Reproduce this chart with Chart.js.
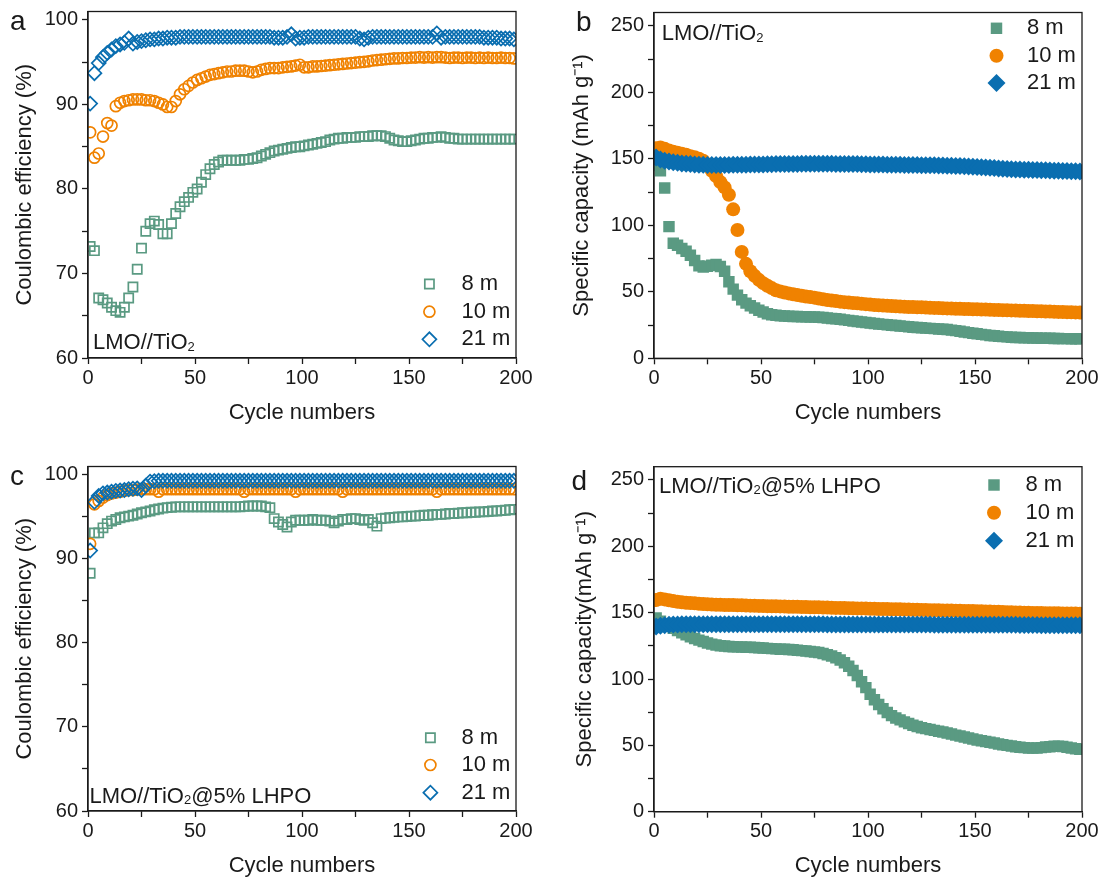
<!DOCTYPE html>
<html>
<head>
<meta charset="utf-8">
<title>LMO//TiO2 cycling</title>
<script src="https://cdn.jsdelivr.net/npm/chart.js@4.4.1/dist/chart.umd.min.js"></script>
<style>
  html, body { margin: 0; padding: 0; background: #fff; }
  #fig { position: relative; width: 1107px; height: 881px; overflow: hidden; }
  #fig canvas { position: absolute; }
</style>
</head>
<body>
<div id="fig">
  <canvas id="panelA"></canvas>
  <canvas id="panelB"></canvas>
  <canvas id="panelC"></canvas>
  <canvas id="panelD"></canvas>
</div>
<script>
// cycle index of every recorded point (every 2nd cycle)
const cycles = [
  1, 3, 5, 7, 9, 11, 13, 15, 17, 19,
  21, 23, 25, 27, 29, 31, 33, 35, 37, 39,
  41, 43, 45, 47, 49, 51, 53, 55, 57, 59,
  61, 63, 65, 67, 69, 71, 73, 75, 77, 79,
  81, 83, 85, 87, 89, 91, 93, 95, 97, 99,
  101, 103, 105, 107, 109, 111, 113, 115, 117, 119,
  121, 123, 125, 127, 129, 131, 133, 135, 137, 139,
  141, 143, 145, 147, 149, 151, 153, 155, 157, 159,
  161, 163, 165, 167, 169, 171, 173, 175, 177, 179,
  181, 183, 185, 187, 189, 191, 193, 195, 197, 199
];
const seriesNames = ['8 m', '10 m', '21 m'];

// (a) LMO//TiO2, coulombic efficiency (%)
const ceA_8m = [
  73.2, 72.7, 67.1, 66.9, 66.5, 66.0, 65.6, 65.4, 66.0, 67.1,
  68.4, 70.5, 73.0, 75.0, 75.9, 76.2, 75.8, 74.7, 74.7, 75.9,
  77.1, 77.9, 78.5, 79.0, 79.6, 80.0, 80.8, 81.7, 82.4, 82.9,
  83.2, 83.4, 83.4, 83.4, 83.4, 83.4, 83.5, 83.5, 83.6, 83.7,
  83.9, 84.1, 84.3, 84.5, 84.6, 84.7, 84.8, 84.9, 85.0, 85.0,
  85.1, 85.2, 85.3, 85.4, 85.5, 85.6, 85.8, 85.9, 86.0, 86.0,
  86.1, 86.1, 86.1, 86.2, 86.2, 86.2, 86.3, 86.3, 86.3, 86.2,
  86.0, 85.8, 85.7, 85.6, 85.6, 85.7, 85.8, 85.9, 86.0, 86.0,
  86.1, 86.1, 86.2, 86.1, 86.0, 86.0, 85.9, 85.9, 85.9, 85.9,
  85.9, 85.9, 85.9, 85.9, 85.9, 85.9, 85.9, 85.9, 85.9, 85.9
];
const ceA_10m = [
  86.7, 83.7, 84.2, 86.2, 87.8, 87.5, 89.8, 90.2, 90.4, 90.5,
  90.6, 90.6, 90.6, 90.5, 90.5, 90.4, 90.2, 90.0, 89.7, 89.7,
  90.4, 91.2, 91.8, 92.2, 92.6, 92.9, 93.1, 93.3, 93.5, 93.6,
  93.7, 93.8, 93.9, 93.9, 94.0, 94.0, 94.0, 93.9, 93.8, 93.9,
  94.1, 94.2, 94.3, 94.3, 94.3, 94.4, 94.45, 94.5, 94.6, 94.7,
  94.4, 94.4, 94.5, 94.5, 94.55, 94.6, 94.65, 94.7, 94.75, 94.8,
  94.85, 94.9, 94.95, 95.0, 95.05, 95.1, 95.2, 95.25, 95.3, 95.35,
  95.4, 95.45, 95.45, 95.5, 95.5, 95.55, 95.55, 95.6, 95.55, 95.6,
  95.55, 95.6, 95.6, 95.55, 95.5, 95.55, 95.55, 95.5, 95.55, 95.55,
  95.5, 95.55, 95.5, 95.55, 95.5, 95.5, 95.55, 95.5, 95.5, 95.45
];
const ceA_21m = [
  90.1, 93.7, 94.9, 95.6, 96.1, 96.5, 96.9, 97.1, 97.3, 97.8,
  97.2, 97.4, 97.5, 97.6, 97.7, 97.7, 97.8, 97.8, 97.9, 97.9,
  97.9, 98.0, 98.0, 98.0, 98.0, 98.0, 98.0, 98.0, 98.0, 98.0,
  98.0, 98.0, 98.0, 98.0, 98.0, 98.0, 98.0, 98.0, 98.0, 98.0,
  98.0, 98.0, 98.0, 97.9, 97.9, 97.9, 98.0, 98.3, 97.8, 97.9,
  97.9, 98.0, 98.0, 98.0, 98.0, 98.0, 98.0, 98.0, 98.0, 98.0,
  98.0, 98.0, 98.0, 97.8, 97.7, 97.9, 98.0, 98.0, 98.0, 98.0,
  98.0, 98.0, 98.0, 98.0, 98.0, 98.0, 98.0, 98.0, 98.0, 98.0,
  98.0, 98.4, 97.9, 98.0, 98.0, 98.0, 98.0, 98.0, 98.0, 98.0,
  98.0, 98.0, 97.9, 97.9, 97.9, 97.9, 97.8, 97.8, 97.8, 97.7
];

// (b) LMO//TiO2, specific capacity (mAh g-1)
const capB_8m = [
  145.0, 141.0, 128.0, 99.0, 86.5, 85.0, 82.5, 80.5, 77.5, 73.5,
  69.5, 68.7, 69.2, 70.0, 70.5, 69.0, 65.5, 57.5, 52.0, 47.5,
  44.0, 41.5, 39.5, 37.8, 36.2, 34.8, 33.5, 32.8, 32.4, 32.0,
  31.8, 31.6, 31.5, 31.4, 31.3, 31.2, 31.1, 31.0, 30.8, 30.6,
  30.3, 30.0, 29.7, 29.3, 28.9, 28.5, 28.1, 27.7, 27.3, 26.9,
  26.5, 26.1, 25.8, 25.5, 25.2, 24.9, 24.6, 24.3, 24.0, 23.7,
  23.4, 23.1, 22.9, 22.7, 22.5, 22.3, 22.1, 21.9, 21.6, 21.2,
  20.8, 20.3, 19.8, 19.3, 18.8, 18.4, 18.0, 17.6, 17.2, 16.9,
  16.6, 16.3, 16.1, 15.9, 15.7, 15.6, 15.5, 15.4, 15.3, 15.2,
  15.1, 15.0, 15.0, 14.9, 14.9, 14.8, 14.8, 14.7, 14.7, 14.6
];
const capB_10m = [
  158.0, 158.5, 157.5, 156.3, 155.3, 154.5, 153.8, 153.0, 152.0, 151.2,
  150.0, 148.5, 145.0, 141.0, 137.0, 132.5, 128.5, 123.0, 112.0, 96.5,
  80.0, 71.0, 65.5, 62.0, 59.0, 56.5, 54.5, 52.8, 51.2, 50.3,
  49.5, 48.8, 48.2, 47.6, 47.0, 46.5, 46.1, 45.6, 45.0, 44.4,
  43.8, 43.4, 43.0, 42.6, 42.2, 41.9, 41.6, 41.3, 41.0, 40.7,
  40.4, 40.1, 39.9, 39.7, 39.5, 39.3, 39.1, 38.9, 38.7, 38.6,
  38.5, 38.4, 38.3, 38.2, 38.0, 37.9, 37.8, 37.6, 37.5, 37.4,
  37.3, 37.2, 37.1, 37.0, 36.9, 36.8, 36.7, 36.6, 36.5, 36.4,
  36.3, 36.2, 36.1, 36.0, 35.9, 35.8, 35.7, 35.6, 35.5, 35.4,
  35.3, 35.2, 35.1, 35.0, 34.9, 34.8, 34.7, 34.6, 34.5, 34.4
];
const capB_21m = [
  151.0, 149.5, 148.5, 148.0, 147.5, 147.0, 146.5, 146.3, 146.0, 145.8,
  145.6, 145.5, 145.4, 145.3, 145.3, 145.3, 145.4, 145.4, 145.5, 145.5,
  145.6, 145.6, 145.7, 145.7, 145.8, 145.8, 145.9, 145.9, 146.0, 146.0,
  146.0, 146.1, 146.1, 146.1, 146.2, 146.2, 146.2, 146.2, 146.2, 146.2,
  146.2, 146.2, 146.1, 146.1, 146.1, 146.0, 146.0, 146.0, 145.9, 145.9,
  145.8, 145.8, 145.7, 145.7, 145.6, 145.6, 145.5, 145.5, 145.4, 145.4,
  145.3, 145.3, 145.2, 145.2, 145.1, 145.1, 145.0, 144.9, 144.8, 144.7,
  144.6, 144.5, 144.4, 144.2, 144.0, 143.8, 143.6, 143.4, 143.2, 143.0,
  142.8, 142.6, 142.4, 142.2, 142.0, 141.9, 141.8, 141.7, 141.6, 141.5,
  141.4, 141.3, 141.2, 141.1, 141.0, 140.9, 140.8, 140.7, 140.6, 140.5
];

// (c) LMO//TiO2@5% LHPO, coulombic efficiency (%)
const ceC_8m = [
  88.3, 93.1, 93.1, 93.7, 94.2, 94.5, 94.7, 94.9, 95.0, 95.1,
  95.2, 95.35, 95.5, 95.6, 95.7, 95.85, 95.95, 96.05, 96.1, 96.15,
  96.2, 96.2, 96.2, 96.2, 96.2, 96.2, 96.2, 96.2, 96.2, 96.2,
  96.2, 96.2, 96.2, 96.2, 96.2, 96.2, 96.25, 96.3, 96.3, 96.3,
  96.3, 96.2, 96.1, 94.8, 94.4, 94.1, 93.8, 94.4, 94.6, 94.6,
  94.6, 94.6, 94.7, 94.6, 94.6, 94.6, 94.5, 94.3, 94.5, 94.7,
  94.7, 94.8, 94.8, 94.7, 94.6, 94.7, 94.3, 93.9, 94.8, 94.85,
  94.9, 94.95, 95.0, 95.0, 95.05, 95.1, 95.1, 95.15, 95.2, 95.2,
  95.25, 95.3, 95.3, 95.35, 95.4, 95.4, 95.45, 95.5, 95.5, 95.55,
  95.55, 95.6, 95.6, 95.65, 95.7, 95.7, 95.75, 95.8, 95.85, 95.9
];
const ceC_10m = [
  91.8, 96.5, 96.9, 97.3, 97.6, 97.8, 97.9, 98.0, 98.1, 98.2,
  98.2, 98.25, 98.3, 98.3, 98.3, 98.3, 98.0, 98.3, 98.3, 98.3,
  98.3, 98.3, 98.3, 98.3, 98.3, 98.3, 98.3, 98.3, 98.3, 98.3,
  98.3, 98.3, 98.3, 98.3, 98.3, 98.3, 98.0, 98.3, 98.3, 98.3,
  98.3, 98.3, 98.3, 98.3, 98.3, 98.3, 98.3, 98.3, 98.0, 98.3,
  98.3, 98.3, 98.3, 98.3, 98.3, 98.3, 98.3, 98.3, 98.3, 98.0,
  98.3, 98.3, 98.3, 98.3, 98.3, 98.3, 98.3, 98.3, 98.3, 98.3,
  98.3, 98.3, 98.3, 98.3, 98.3, 98.3, 98.3, 98.3, 98.3, 98.3,
  98.3, 98.0, 98.3, 98.3, 98.3, 98.3, 98.3, 98.3, 98.3, 98.3,
  98.3, 98.3, 98.3, 98.3, 98.3, 98.3, 98.3, 98.3, 98.3, 98.3
];
const ceC_21m = [
  91.0, 96.8, 97.5, 97.8, 97.9, 98.0, 98.1, 98.15, 98.2, 98.3,
  98.35, 98.4, 98.2, 98.7, 99.2, 99.25, 99.3, 99.3, 99.3, 99.3,
  99.3, 99.3, 99.3, 99.3, 99.3, 99.3, 99.3, 99.3, 99.3, 99.3,
  99.3, 99.3, 99.3, 99.3, 99.3, 99.3, 99.3, 99.3, 99.3, 99.3,
  99.3, 99.3, 99.3, 99.3, 99.3, 99.3, 99.3, 99.3, 99.3, 99.3,
  99.3, 99.3, 99.3, 99.3, 99.3, 99.3, 99.3, 99.3, 99.3, 99.3,
  99.3, 99.3, 99.3, 99.3, 99.3, 99.3, 99.3, 99.3, 99.3, 99.3,
  99.3, 99.3, 99.3, 99.3, 99.3, 99.3, 99.3, 99.3, 99.3, 99.3,
  99.3, 99.3, 99.3, 99.3, 99.3, 99.3, 99.3, 99.3, 99.3, 99.3,
  99.3, 99.3, 99.3, 99.3, 99.3, 99.3, 99.3, 99.3, 99.3, 99.3
];

// (d) LMO//TiO2@5% LHPO, specific capacity (mAh g-1)
const capD_8m = [
  146.0, 143.5, 141.5, 139.8, 138.2, 136.5, 134.8, 133.3, 131.8, 130.5,
  129.3, 128.2, 127.2, 126.3, 125.6, 125.1, 124.8, 124.5, 124.3, 124.2,
  124.1, 124.0, 123.9, 123.7, 123.5, 123.3, 123.1, 122.9, 122.7, 122.5,
  122.4, 122.2, 122.0, 121.7, 121.4, 121.1, 120.7, 120.3, 119.9, 119.2,
  118.3, 117.3, 116.0, 114.3, 112.2, 109.6, 106.4, 102.6, 98.0, 93.5,
  88.5, 84.3, 80.8, 77.6, 74.8, 72.4, 70.6, 69.2, 67.7, 66.4,
  65.2, 64.2, 63.3, 62.6, 62.0, 61.3, 60.6, 60.0, 59.3, 58.5,
  57.7, 57.0, 56.3, 55.5, 54.8, 54.1, 53.5, 52.9, 52.3, 51.7,
  51.0, 50.5, 50.0, 49.5, 49.0, 48.6, 48.3, 48.0, 47.9, 48.0,
  48.3, 48.7, 49.0, 49.3, 49.4, 49.2, 48.6, 48.0, 47.5, 47.0
];
const capD_10m = [
  159.5, 160.5, 160.0, 159.3, 158.7, 158.2, 157.8, 157.5, 157.2, 157.0,
  156.7, 156.5, 156.3, 156.1, 156.0, 155.9, 155.8, 155.8, 155.7, 155.6,
  155.5, 155.4, 155.3, 155.2, 155.1, 155.0, 154.9, 154.8, 154.8, 154.7,
  154.6, 154.5, 154.4, 154.4, 154.3, 154.2, 154.1, 154.0, 154.0, 153.9,
  153.8, 153.7, 153.6, 153.6, 153.5, 153.4, 153.3, 153.2, 153.2, 153.1,
  153.0, 152.9, 152.8, 152.8, 152.7, 152.6, 152.5, 152.5, 152.4, 152.3,
  152.2, 152.2, 152.1, 152.0, 151.9, 151.9, 151.8, 151.7, 151.6, 151.6,
  151.5, 151.4, 151.3, 151.3, 151.2, 151.1, 151.0, 150.9, 150.8, 150.7,
  150.6, 150.5, 150.4, 150.3, 150.2, 150.1, 150.0, 149.9, 149.8, 149.8,
  149.7, 149.6, 149.6, 149.5, 149.5, 149.4, 149.4, 149.3, 149.3, 149.2
];
const capD_21m = [
  139.5, 140.2, 140.6, 140.9, 141.0, 141.1, 141.2, 141.2, 141.3, 141.3,
  141.3, 141.3, 141.3, 141.3, 141.3, 141.3, 141.3, 141.3, 141.3, 141.3,
  141.3, 141.3, 141.3, 141.3, 141.2, 141.2, 141.2, 141.2, 141.2, 141.2,
  141.2, 141.2, 141.2, 141.2, 141.2, 141.2, 141.2, 141.2, 141.2, 141.2,
  141.1, 141.1, 141.1, 141.1, 141.1, 141.1, 141.1, 141.1, 141.1, 141.1,
  141.1, 141.1, 141.0, 141.0, 141.0, 141.0, 141.0, 141.0, 141.0, 141.0,
  141.0, 141.0, 141.0, 141.0, 141.0, 140.9, 140.9, 140.9, 140.9, 140.9,
  140.9, 140.9, 140.9, 140.9, 140.9, 140.8, 140.8, 140.8, 140.8, 140.8,
  140.8, 140.8, 140.8, 140.8, 140.8, 140.7, 140.7, 140.7, 140.7, 140.7,
  140.6, 140.6, 140.6, 140.6, 140.6, 140.5, 140.5, 140.5, 140.5, 140.5
];

const FONT = '"Liberation Sans", Arial, Helvetica, sans-serif';
const INK = '#1a1a1a';
const colors = ['#5a9a82', '#f08200', '#0a6eb0'];

// hollow markers for efficiency, solid ones for capacity
const OPEN = [
  { style: 'rect', radius: 6.5, border: 1.7 },
  { style: 'circle', radius: 5.5, border: 1.7 },
  { style: 'rectRot', radius: 7, border: 1.7 }
];
const FILLED = [
  { style: 'rect', radius: 8.1, border: 0 },
  { style: 'circle', radius: 7, border: 0 },
  { style: 'rectRot', radius: 9, border: 0 }
];

Chart.defaults.font.family = FONT;
Chart.defaults.color = INK;

// frame, panel letter, sample label and legend
const panelDecor = {
  id: 'panelDecor',
  afterDraw(chart, args, o) {
    const { ctx, chartArea: a } = chart;
    ctx.save();
    ctx.strokeStyle = INK;
    ctx.lineWidth = 1.3;
    ctx.strokeRect(a.left, a.top, a.right - a.left, a.bottom - a.top);

    ctx.fillStyle = INK;
    ctx.textAlign = 'left';
    ctx.textBaseline = 'alphabetic';
    ctx.font = `28px ${FONT}`;
    ctx.fillText(o.letter, o.letterX, o.letterY);

    let x = o.insetX;
    o.inset.forEach(([txt, sub]) => {
      ctx.font = sub ? `13px ${FONT}` : `22px ${FONT}`;
      ctx.fillText(txt, x, o.insetY + (sub ? 1.5 : 0));
      x += ctx.measureText(txt).width;
    });

    chart.data.datasets.forEach((ds, i) => {
      const y = o.legendY[i];
      ctx.fillStyle = ds.pointBackgroundColor;
      ctx.strokeStyle = ds.pointBorderColor;
      ctx.lineWidth = ds.pointBorderWidth;
      Chart.helpers.drawPoint(ctx, {
        pointStyle: ds.pointStyle, radius: ds.pointRadius,
        borderWidth: ds.pointBorderWidth, rotation: 0
      }, o.legendX, y);
      ctx.fillStyle = INK;
      ctx.textBaseline = 'middle';
      ctx.font = `22px ${FONT}`;
      ctx.fillText(ds.label, o.legendTextX, y);
      ctx.textBaseline = 'alphabetic';
    });
    ctx.restore();
  }
};

// page coordinates of each panel: canvas box and plot area [left, top, right, bottom]
const panels = [
  {
    id: 'panelA', box: [0, 0, 553, 435], area: [88, 11.5, 516, 358],
    y: { min: 60, max: 101, step: 5, label: 10 },
    yTitle: 'Coulombic efficiency (%)', yTitleX: 24.8, xTitleY: 412.7,
    letter: ['a', 10, 30],
    inset: [['LMO//TiO', false], ['2', true]], insetPos: [93, 349],
    legend: { x: 429.4, textX: 461.5, y: [284, 311.7, 339.3] },
    series: [ceA_8m, ceA_10m, ceA_21m], filled: false
  },
  {
    id: 'panelB', box: [553, 0, 554, 435], area: [654, 12.5, 1082, 358.3],
    y: { min: 0, max: 260, step: 25, label: 50 },
    yTitle: 'Specific capacity (mAh g\u207B\u00B9)', yTitleX: 581.5, xTitleY: 412.7,
    letter: ['b', 576, 30.7],
    inset: [['LMO//TiO', false], ['2', true]], insetPos: [661.7, 40],
    legend: { x: 996.5, textX: 1027, y: [28.3, 55.7, 83] },
    series: [capB_8m, capB_10m, capB_21m], filled: true
  },
  {
    id: 'panelC', box: [0, 435, 553, 446], area: [88, 466.5, 516, 811],
    y: { min: 60, max: 101, step: 5, label: 10 },
    yTitle: 'Coulombic efficiency (%)', yTitleX: 24.8, xTitleY: 866,
    letter: ['c', 10, 485],
    inset: [['LMO//TiO', false], ['2', true], ['@5% LHPO', false]], insetPos: [89.4, 802.7],
    legend: { x: 430.4, textX: 461.5, y: [737.7, 765, 792.7] },
    series: [ceC_8m, ceC_10m, ceC_21m], filled: false
  },
  {
    id: 'panelD', box: [553, 435, 554, 446], area: [654, 466.7, 1082, 811.7],
    y: { min: 0, max: 260, step: 25, label: 50 },
    yTitle: 'Specific capacity(mAh g\u207B\u00B9)', yTitleX: 585, xTitleY: 866,
    letter: ['d', 571.5, 490],
    inset: [['LMO//TiO', false], ['2', true], ['@5% LHPO', false]], insetPos: [658.9, 492.7],
    legend: { x: 994, textX: 1025.5, y: [485, 512.7, 540.7] },
    series: [capD_8m, capD_10m, capD_21m], filled: true
  }
];

const TITLE_SIZE = 22;
const TITLE_HALF = TITLE_SIZE * 1.2 / 2;

function axisStyle() {
  return {
    grid: { drawOnChartArea: false, drawTicks: true, tickLength: 6, tickWidth: 1.3, tickColor: INK },
    border: { display: true, color: INK, width: 1.3 }
  };
}

function buildPanel(p) {
  const canvas = document.getElementById(p.id);
  const [bx, by, bw, bh] = p.box;
  const [al, at, ar, ab] = p.area;
  canvas.width = bw;
  canvas.height = bh;
  Object.assign(canvas.style, { left: bx + 'px', top: by + 'px', width: bw + 'px', height: bh + 'px' });

  const marks = p.filled ? FILLED : OPEN;
  const datasets = p.series.map((vals, i) => ({
    label: seriesNames[i],
    data: cycles.map((c, k) => ({ x: c, y: vals[k] })),
    showLine: false,
    order: 3 - i,
    pointStyle: marks[i].style,
    pointRadius: marks[i].radius,
    pointBorderWidth: marks[i].border,
    pointBorderColor: colors[i],
    pointBackgroundColor: p.filled ? colors[i] : 'rgba(0,0,0,0)'
  }));

  return new Chart(canvas, {
    type: 'line',
    data: { datasets },
    options: {
      responsive: false,
      animation: false,
      events: [],
      layout: { padding: { left: 0, top: at - by, right: bx + bw - ar, bottom: 0 } },
      plugins: {
        legend: { display: false },
        tooltip: { enabled: false },
        panelDecor: {
          letter: p.letter[0], letterX: p.letter[1] - bx, letterY: p.letter[2] - by,
          inset: p.inset, insetX: p.insetPos[0] - bx, insetY: p.insetPos[1] - by,
          legendX: p.legend.x - bx, legendTextX: p.legend.textX - bx,
          legendY: p.legend.y.map(v => v - by)
        }
      },
      scales: {
        x: {
          type: 'linear', min: 0, max: 200,
          ...axisStyle(),
          ticks: {
            stepSize: 25, autoSkip: false, maxRotation: 0, includeBounds: false, padding: 2,
            font: { size: 20 }, color: INK,
            callback: v => (v % 50 === 0 ? v : '')
          },
          title: {
            display: true, text: 'Cycle numbers', color: INK,
            font: { size: TITLE_SIZE },
            padding: { top: 0, bottom: (by + bh - p.xTitleY) - TITLE_HALF }
          },
          afterFit(s) { s.height = by + bh - ab; s.paddingLeft = 0; s.paddingRight = 0; }
        },
        y: {
          type: 'linear', min: p.y.min, max: p.y.max,
          ...axisStyle(),
          ticks: {
            stepSize: p.y.step, autoSkip: false, includeBounds: false, padding: 4,
            font: { size: 20 }, color: INK,
            callback: v => (v % p.y.label === 0 ? v : '')
          },
          title: {
            display: true, text: p.yTitle, color: INK,
            font: { size: TITLE_SIZE },
            padding: { top: (p.yTitleX - bx) - TITLE_HALF, bottom: 0 }
          },
          afterFit(s) { s.width = al - bx; s.paddingTop = 0; s.paddingBottom = 0; }
        }
      }
    },
    plugins: [panelDecor]
  });
}

panels.forEach(buildPanel);
</script>
</body>
</html>
